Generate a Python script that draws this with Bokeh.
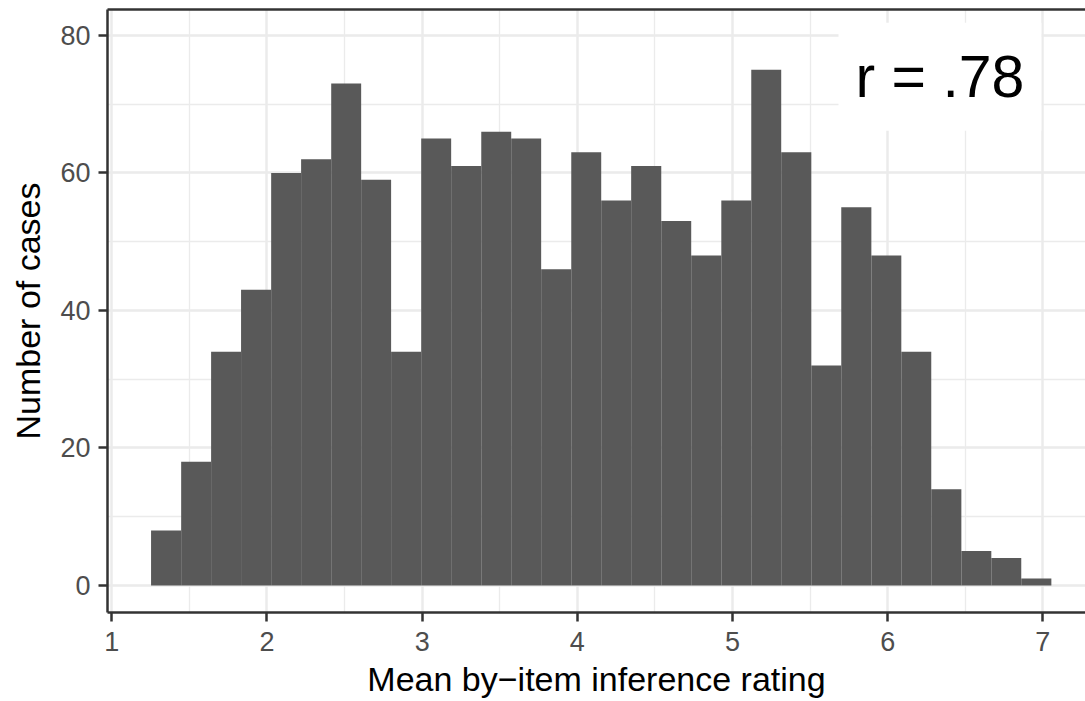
from bokeh.plotting import figure
from bokeh.models import SingleIntervalTicker, Label, Range1d, LinearAxis, FixedTicker
from bokeh.embed import file_html
from bokeh.resources import INLINE

# ---- data (30 bins) ----
bin_edges = [1.253, 1.447, 1.640, 1.833, 2.027, 2.220, 2.414, 2.607, 2.800, 2.994,
             3.187, 3.381, 3.574, 3.767, 3.961, 4.154, 4.347, 4.541, 4.734, 4.928,
             5.121, 5.314, 5.508, 5.701, 5.895, 6.088, 6.281, 6.475, 6.668, 6.861,
             7.055]
counts = [8, 18, 34, 43, 60, 62, 73, 59, 34, 65,
          61, 66, 65, 46, 63, 56, 61, 53, 48, 56,
          75, 63, 32, 55, 48, 34, 14, 5, 4, 1]
x_ticks_interval = 1
y_ticks_interval = 20
annotation_text = "r = .78"
x_title = "Mean by\u2212item inference rating"
y_title = "Number of cases"

FONT = "Liberation Sans"
BORDER = "#333333"

p = figure(width=1085, height=701, output_backend="svg", toolbar_location=None,
           x_range=Range1d(0.9723, 7.2750), y_range=Range1d(-3.93, 83.78),
           min_border_left=107, min_border_right=0, min_border_top=9, min_border_bottom=89)

p.background_fill_color = "white"
p.border_fill_color = "white"
p.outline_line_color = None

p.quad(left=bin_edges[:-1], right=bin_edges[1:], bottom=0, top=counts,
       fill_color="#595959", line_color=None)

p.xaxis.ticker = SingleIntervalTicker(interval=x_ticks_interval, num_minor_ticks=2)
p.yaxis.ticker = SingleIntervalTicker(interval=y_ticks_interval, num_minor_ticks=2)

for g in (p.xgrid, p.ygrid):
    g.grid_line_color = "#EBEBEB"
    g.grid_line_width = 2.4
    g.minor_grid_line_color = "#EBEBEB"
    g.minor_grid_line_width = 1.3
    g.level = "underlay"

for ax in (p.xaxis, p.yaxis):
    ax.axis_line_color = BORDER
    ax.axis_line_width = 2.5
    ax.major_tick_line_color = BORDER
    ax.major_tick_line_width = 2.5
    ax.major_tick_in = 0
    ax.major_tick_out = 9
    ax.minor_tick_line_color = None
    ax.major_label_text_font = FONT
    ax.major_label_text_font_size = "27px"
    ax.major_label_text_color = "#4D4D4D"
    ax.axis_label_text_font = FONT
    ax.axis_label_text_font_size = "34px"
    ax.axis_label_text_font_style = "normal"
    ax.axis_label_text_color = "black"

p.xaxis.axis_label = x_title
p.yaxis.axis_label = y_title
p.xaxis.major_label_standoff = 10
p.xaxis.axis_label_standoff = 6
p.yaxis.major_label_standoff = 8
p.yaxis.axis_label_standoff = 10

# top panel border (the right side of the panel is cut off in the reference)
top_border = LinearAxis(ticker=FixedTicker(ticks=[]), axis_line_color=BORDER,
                        axis_line_width=2.5, major_tick_out=0, major_tick_in=0,
                        minor_tick_out=0, minor_tick_in=0, major_label_standoff=0,
                        minor_tick_line_color=None, major_tick_line_color=None)
p.add_layout(top_border, "above")

lab = Label(x=6.337, y=74.0, text=annotation_text, text_align="center",
            text_baseline="middle", text_font=FONT, text_font_size="59px",
            text_color="black", background_fill_color="white",
            padding=dict(left=17, right=17, top=21, bottom=21))
p.add_layout(lab)

open("out.html", "w").write(file_html(p, INLINE))
